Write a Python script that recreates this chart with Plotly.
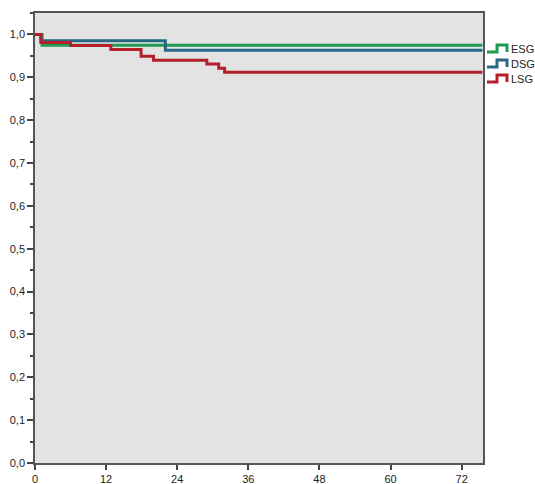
import plotly.graph_objects as go

# Kaplan-Meier step data (months, cumulative survival)
esg_time = [0, 1.2, 75.5]
esg_surv = [1.0, 0.975, 0.975]

dsg_time = [0, 1.0, 22.0, 75.5]
dsg_surv = [1.0, 0.985, 0.963, 0.963]

lsg_time = [0, 1.0, 6.0, 12.8, 17.9, 20.0, 29.0, 31.0, 32.0, 75.5]
lsg_surv = [1.0, 0.981, 0.974, 0.965, 0.949, 0.940, 0.931, 0.921, 0.912, 0.912]

groups = ["ESG", "DSG", "LSG"]
colors = {"ESG": "#1f9a50", "DSG": "#2a6986", "LSG": "#b3202a"}

x_ticks = [0, 12, 24, 36, 48, 60, 72]
y_ticks = [0.0, 0.1, 0.2, 0.3, 0.4, 0.5, 0.6, 0.7, 0.8, 0.9, 1.0]
y_ticktext = [f"{v:.1f}".replace(".", ",") for v in y_ticks]

data = {"ESG": (esg_time, esg_surv), "DSG": (dsg_time, dsg_surv), "LSG": (lsg_time, lsg_surv)}

W, H = 535, 484
L, R, T, B = 35, 52, 13, 21
pw, ph = W - L - R, H - T - B

fig = go.Figure()
for g in groups:
    t, s = data[g]
    fig.add_trace(go.Scatter(x=t, y=s, mode="lines", line=dict(shape="hv", color=colors[g], width=3),
                             name=g, showlegend=False, hoverinfo="skip"))

# custom step-glyph legend (pixel -> paper)
def px(xp):
    return (xp - L) / pw

def py(yp):
    return (H - B - yp) / ph

legend_y = {"ESG": 49, "DSG": 64, "LSG": 79}
for g in groups:
    yc = legend_y[g]
    x0, x1, x2 = 487, 497, 507
    ylo, yhi = yc + 3, yc - 4
    path = (f"M {px(x0)},{py(ylo)} L {px(x1)},{py(ylo)} L {px(x1)},{py(yhi)} "
            f"L {px(x2)},{py(yhi)} L {px(x2)},{py(ylo)}")
    fig.add_shape(type="path", path=path, xref="paper", yref="paper",
                  line=dict(color=colors[g], width=3))
    fig.add_annotation(x=px(509), y=py(yc), xref="paper", yref="paper", text=g,
                       showarrow=False, xanchor="left", yanchor="middle",
                       font=dict(family="Liberation Sans, Arial", size=11, color="#222"))

fig.update_layout(
    width=W, height=H,
    margin=dict(l=L, r=R, t=T, b=B, pad=0),
    paper_bgcolor="white", plot_bgcolor="#e3e3e3",
    font=dict(family="Liberation Sans, Arial", size=11, color="#222"),
    showlegend=False,
)
fig.update_xaxes(range=[0, 75.6], tickvals=x_ticks, ticktext=[str(v) for v in x_ticks],
                 ticks="outside", ticklen=5, tickwidth=1.5, tickcolor="#444",
                 showline=True, linecolor="#555", linewidth=1.5, mirror=True,
                 showgrid=False, zeroline=False, automargin=False)
fig.update_yaxes(range=[0, 1.05], tickvals=y_ticks, ticktext=y_ticktext,
                 ticks="outside", ticklen=6, tickwidth=1.5, tickcolor="#444",
                 minor=dict(dtick=0.05, ticks="outside", ticklen=3, tickcolor="#444", tickwidth=1.5),
                 showline=True, linecolor="#555", linewidth=1.5, mirror=True,
                 showgrid=False, zeroline=False, automargin=False)

fig.write_html("out.html", config={"displayModeBar": False},
               post_script="document.body.style.margin='0';document.body.style.overflow='hidden';")
